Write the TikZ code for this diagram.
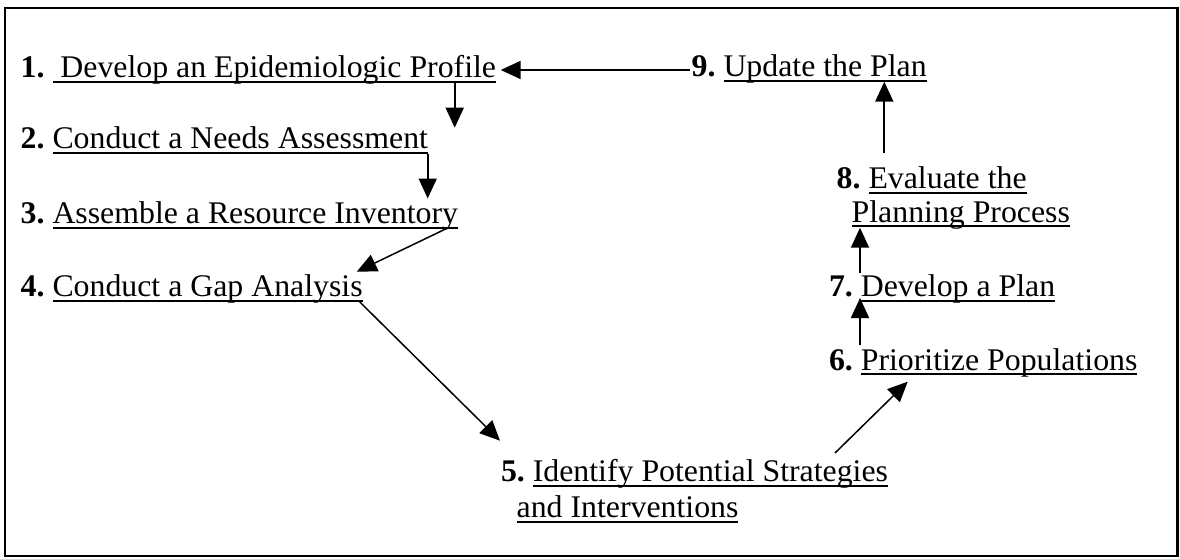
\documentclass[tikz,border=0pt]{standalone}
\usepackage{fontspec}
\setmainfont[FakeStretch=1.01]{Liberation Serif}
\usetikzlibrary{arrows.meta}

% underline drawn at a fixed depth below the baseline, crossing descenders
\newsavebox\ulbox
\newcommand\ulin[1]{\sbox\ulbox{#1}\rlap{\rule[-5.3pt]{\wd\ulbox}{2pt}}\usebox\ulbox}

\tikzset{
  steptext/.style={anchor=base west, inner sep=0pt, outer sep=0pt,
    font=\fontsize{31.5}{36}\selectfont},
  flow/.style={line width=1.8pt, -{Triangle[length=20pt,width=18pt]}},
  slant/.style={line width=1.5pt, -{Triangle[length=20pt,width=18pt]}},
}

\begin{document}
\begin{tikzpicture}[x=1pt, y={(0pt,-1pt)}]
\useasboundingbox (0,0) rectangle (1180,559);

% outer frame
\draw[line width=2.2pt] (5,8.3) rectangle (1177.5,556);

% planning steps
\node[steptext] (s1) at (20.7,78)   {\textbf{1.}\ \ulin{\ Develop an Epidemiologic Profile}};
\node[steptext] (s2) at (20.7,149)  {\textbf{2.}\ \ulin{Conduct a Needs Assessment}};
\node[steptext] (s3) at (20.7,223.3){\textbf{3.}\ \ulin{Assemble a Resource Inventory}};
\node[steptext] (s4) at (20.7,296.7){\textbf{4.}\ \ulin{Conduct a Gap Analysis}};
\node[steptext] (s5) at (501,481.5) {\textbf{5.}\ \ulin{Identify Potential Strategies}};
\node[steptext] (s5b) at (516.7,517.5) {\ulin{and Interventions}};
\node[steptext] (s6) at (829,370)   {\textbf{6.}\ \ulin{Prioritize Populations}};
\node[steptext] (s7) at (829,296.7) {\textbf{7.}\ \ulin{Develop a Plan}};
\node[steptext] (s8) at (836.7,188.3) {\textbf{8.}\ \ulin{Evaluate the}};
\node[steptext] (s8b) at (851.7,222) {\ulin{Planning Process}};
\node[steptext] (s9) at (691.7,77)  {\textbf{9.}\ \ulin{Update the Plan}};

% connector end points
\coordinate (c1out) at (454.7,80.7);
\coordinate (c2in)  at (454.7,127.7);
\coordinate (c2out) at (427.7,154);
\coordinate (c3in)  at (427.7,198.5);
\coordinate (c3out) at (448.3,227.7);
\coordinate (c4in)  at (356.7,271.7);
\coordinate (c4out) at (358.3,300.5);
\coordinate (c5in)  at (500,440.7);
\coordinate (c5out) at (835,453);
\coordinate (c6in)  at (907.7,381.7);
\coordinate (c6out) at (860,345);
\coordinate (c7in)  at (860,298);
\coordinate (c7out) at (860,272.7);
\coordinate (c8in)  at (860,227.7);
\coordinate (c8out) at (884.3,153.3);
\coordinate (c9in)  at (884.3,81.7);
\coordinate (c9out) at (690,70);
\coordinate (c1in)  at (500.7,70);

% flow of the cycle
\draw[flow]  (c1out) -- (c2in);
\draw[flow]  (c2out) -- (c3in);
\draw[slant] (c3out) -- (c4in);
\draw[slant] (c4out) -- (c5in);
\draw[slant] (c5out) -- (c6in);
\draw[flow]  (c6out) -- (c7in);
\draw[flow]  (c7out) -- (c8in);
\draw[flow]  (c8out) -- (c9in);
\draw[flow]  (c9out) -- (c1in);
\end{tikzpicture}
\end{document}
